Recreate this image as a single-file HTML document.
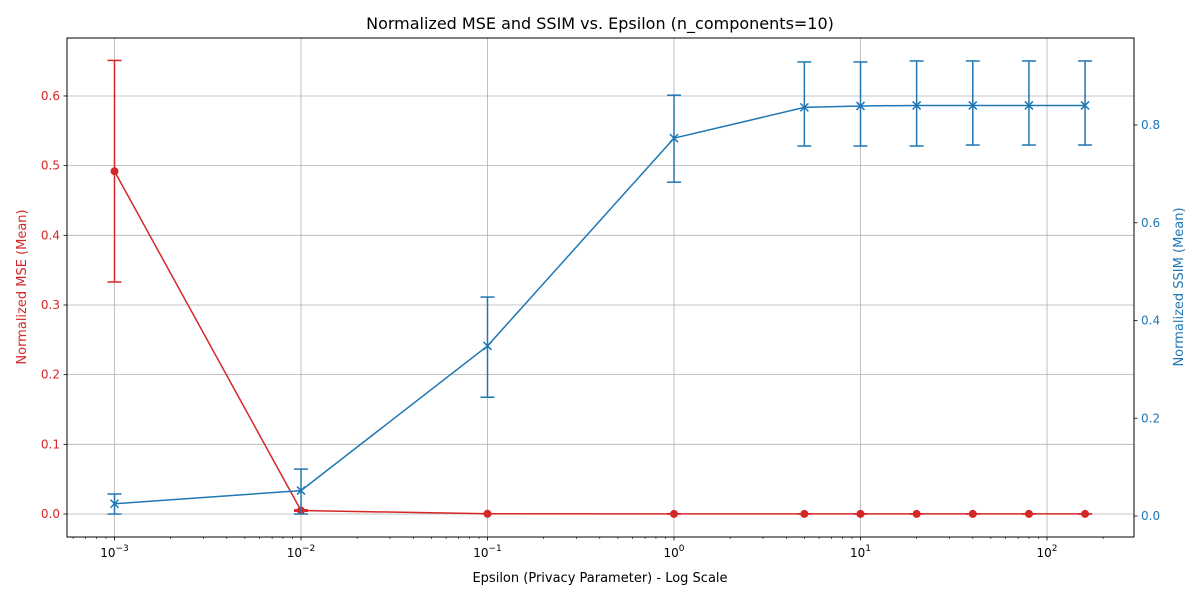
<!DOCTYPE html>
<html><head><meta charset="utf-8"><style>
body{margin:0;background:#fff;}
svg text{font-family:"DejaVu Sans","Liberation Sans",sans-serif;}
</style></head><body>
<svg id="chart" width="1200" height="600" xmlns="http://www.w3.org/2000/svg">
<rect width="1200" height="600" fill="#fff"/>
<text x="600" y="29" font-size="16" text-anchor="middle">Normalized MSE and SSIM vs. Epsilon (n_components=10)</text>
<g id="grid"></g><g id="axes"></g><g id="series"></g>
<text x="600" y="582" font-size="13" text-anchor="middle">Epsilon (Privacy Parameter) - Log Scale</text>
<text transform="translate(26,287) rotate(-90)" font-size="13" text-anchor="middle" fill="#d62728">Normalized MSE (Mean)</text>
<text transform="translate(1183,287) rotate(-90)" font-size="13" text-anchor="middle" fill="#1f77b4">Normalized SSIM (Mean)</text>
</svg>
<script>
const epsilons=[0.001,0.01,0.1,1,5,10,20,40,80,160];
const mseMean=[0.492,0.005,0.0003,0.0001,0.0001,0.0001,0.0001,0.0001,0.0001,0.0001];
const mseLow=[0.333,0.004,0.0002,0.0001,0.0001,0.0001,0.0001,0.0001,0.0001,0.0001];
const mseHigh=[0.651,0.006,0.0004,0.0001,0.0001,0.0001,0.0001,0.0001,0.0001,0.0001];
const ssimMean=[0.025,0.052,0.348,0.773,0.836,0.839,0.840,0.840,0.840,0.840];
const ssimLow=[0.004,0.004,0.243,0.683,0.757,0.757,0.757,0.759,0.759,0.759];
const ssimHigh=[0.045,0.096,0.448,0.861,0.929,0.929,0.931,0.931,0.931,0.931];
const leftTicks=[0,0.1,0.2,0.3,0.4,0.5,0.6];
const rightTicks=[0,0.2,0.4,0.6,0.8];
const xTickExps=[-3,-2,-1,0,1,2];

const L=67,R=1134,T=38,B=537;
const x=v=>674+(Math.log10(v))*186.5;
const yL=v=>514-v*696.7;
const yR=v=>516-v*488.75;
const NS="http://www.w3.org/2000/svg";
function mk(tag,attrs,parent,txt){const e=document.createElementNS(NS,tag);for(const k in attrs)e.setAttribute(k,attrs[k]);if(txt!==undefined)e.textContent=txt;parent.appendChild(e);return e;}
const grid=document.getElementById('grid'),axes=document.getElementById('axes'),ser=document.getElementById('series');

xTickExps.forEach(p=>{const X=x(Math.pow(10,p));
 const g=mk('line',{x1:X,x2:X,y1:T,y2:B,stroke:'#b0b0b0','stroke-width':0.8},grid);
 
 mk('line',{x1:X,x2:X,y1:B,y2:B+3.5,stroke:'#000','stroke-width':0.8},axes);
 const t=mk('text',{x:X,y:B+20,'font-size':12,'text-anchor':'middle'},axes);
 
 mk('tspan',{},t,'10');mk('tspan',{dy:-6,'font-size':9},t,String(p).replace('-','\u2212'));
});
for(let p=-4;p<=2;p++)for(let m=2;m<=9;m++){const X=x(m*Math.pow(10,p));if(X>L&&X<R)mk('line',{x1:X,x2:X,y1:B,y2:B+2,stroke:'#000','stroke-width':0.6},axes);}
leftTicks.forEach(v=>{const Y=yL(v);
 const g=mk('line',{x1:L,x2:R,y1:Y,y2:Y,stroke:'#b0b0b0','stroke-width':0.8},grid);
 
 mk('line',{x1:L-3.5,x2:L,y1:Y,y2:Y,stroke:'#000','stroke-width':0.8},axes);
 const t=mk('text',{x:L-7,y:Y+4,'font-size':12,'text-anchor':'end',fill:'#d62728'},axes,v.toFixed(1));
 
});
rightTicks.forEach(v=>{const Y=yR(v);
 mk('line',{x1:R,x2:R+3.5,y1:Y,y2:Y,stroke:'#000','stroke-width':0.8},axes);
 const t=mk('text',{x:R+7,y:Y+4,'font-size':12,fill:'#1f77b4'},axes,v.toFixed(1));
 
});
const frame=mk('rect',{x:L,y:T,width:R-L,height:B-T,fill:'none',stroke:'#000','stroke-width':1},axes);


function series(mean,lo,hi,yf,color,marker,name){
 const g=mk('g',{},ser);
 
 epsilons.forEach((e,i)=>{const X=x(e);
  mk('line',{x1:X,x2:X,y1:yf(lo[i]),y2:yf(hi[i]),stroke:color,'stroke-width':1.5},g);
  mk('line',{x1:X-7,x2:X+7,y1:yf(lo[i]),y2:yf(lo[i]),stroke:color,'stroke-width':1.5},g);
  mk('line',{x1:X-7,x2:X+7,y1:yf(hi[i]),y2:yf(hi[i]),stroke:color,'stroke-width':1.5},g);
 });
 const l=mk('polyline',{points:epsilons.map((e,i)=>x(e)+','+yf(mean[i])).join(' '),fill:'none',stroke:color,'stroke-width':1.5},g);
 
 epsilons.forEach((e,i)=>{const X=x(e),Y=yf(mean[i]);
  if(marker==='o'){const c=mk('circle',{cx:X,cy:Y,r:4,fill:color},g);}
  else{const p=mk('path',{d:`M${X-4},${Y-4}L${X+4},${Y+4}M${X-4},${Y+4}L${X+4},${Y-4}`,stroke:color,'stroke-width':1.5},g);}
 });
}
series(mseMean,mseLow,mseHigh,yL,'#d62728','o','mse-series');
series(ssimMean,ssimLow,ssimHigh,yR,'#1f77b4','x','ssim-series');
</script>
</body></html>
